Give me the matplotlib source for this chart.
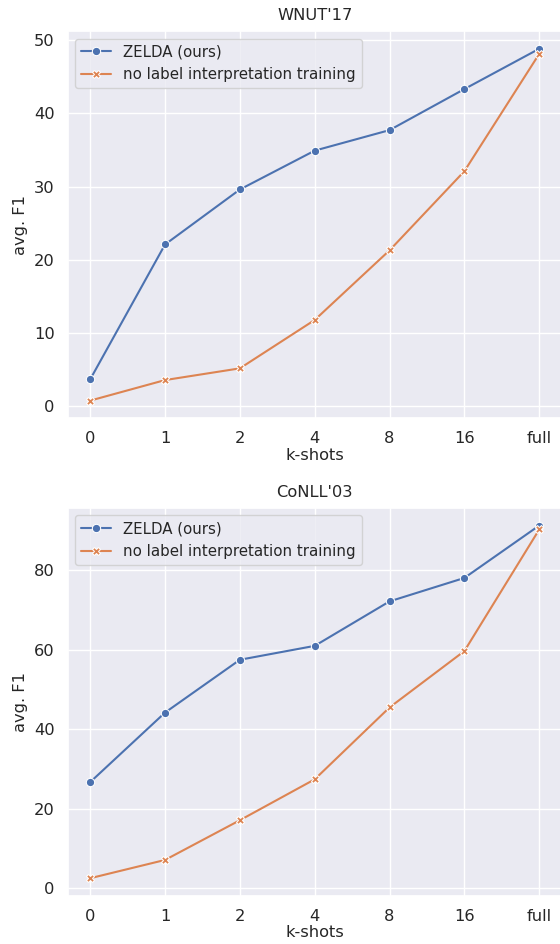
import matplotlib
matplotlib.use('Agg')
import matplotlib.pyplot as plt
import seaborn as sns

shots = ['0', '1', '2', '4', '8', '16', 'full']

wnut_zelda = [3.7, 22.1, 29.6, 34.9, 37.7, 43.3, 48.8]
wnut_nolabel = [0.8, 3.6, 5.2, 11.8, 21.3, 32.1, 48.1]

conll_zelda = [26.7, 44.2, 57.5, 61.0, 72.2, 78.1, 91.3]
conll_nolabel = [2.5, 7.1, 17.1, 27.4, 45.5, 59.7, 90.3]

sns.set_theme(style='darkgrid')
plt.rcParams['font.family'] = ['DejaVu Sans']

blue = '#4C72B0'
orange = '#DD8452'
fs = 11.7

fig = plt.figure(figsize=(5.6, 9.44), dpi=100)
ax1 = fig.add_axes([0.121, 0.557, 0.882, 0.410])
ax2 = fig.add_axes([0.121, 0.051, 0.882, 0.411])

panels = [
    (ax1, "WNUT'17", wnut_zelda, wnut_nolabel),
    (ax2, "CoNLL'03", conll_zelda, conll_nolabel),
]

for ax, title, zelda, nolabel in panels:
    x = range(len(shots))
    ax.plot(x, zelda, color=blue, linewidth=1.5, marker='o', markersize=6,
            markeredgecolor='white', markeredgewidth=0.75, label='ZELDA (ours)')
    ax.plot(x, nolabel, color=orange, linewidth=1.5, marker='X', markersize=6,
            markeredgecolor='white', markeredgewidth=0.75,
            label='no label interpretation training')
    ax.set_xticks(list(x))
    ax.set_xticklabels(shots)
    ax.set_title(title, fontsize=fs, pad=8)
    ax.set_xlabel('k-shots', fontsize=fs, labelpad=1)
    ax.set_ylabel('avg. F1', fontsize=fs)
    ax.tick_params(axis='both', labelsize=fs, length=0, pad=9.5)
    ax.legend(loc='upper left', fontsize=10.8)

fig.savefig('out.png', dpi=100)
